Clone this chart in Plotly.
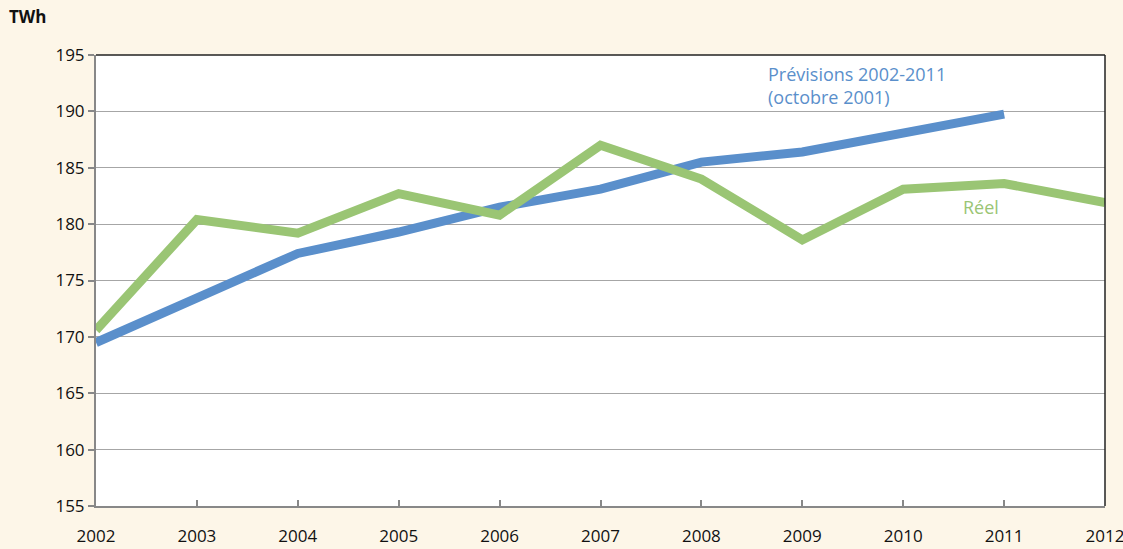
import plotly.graph_objects as go

years = [2002, 2003, 2004, 2005, 2006, 2007, 2008, 2009, 2010, 2011, 2012]
prevision_years = years[:10]
previsions = [169.5, 173.5, 177.4, 179.3, 181.5, 183.1, 185.5, 186.4, 188.1, 189.75]
reel = [170.6, 180.4, 179.2, 182.7, 180.8, 187.0, 184.0, 178.6, 183.1, 183.6, 181.9]
y_ticks = [155, 160, 165, 170, 175, 180, 185, 190, 195]

BLUE = "#5A8FCB"
GREEN = "#9AC574"
BG = "#FDF6E8"
FONT = "Open Sans"

fig = go.Figure()
fig.add_trace(go.Scatter(x=prevision_years, y=previsions, mode="lines",
                         line=dict(color=BLUE, width=9), name="Prévisions"))
fig.add_trace(go.Scatter(x=years, y=reel, mode="lines",
                         line=dict(color=GREEN, width=9), name="Réel"))

fig.update_layout(
    width=1123, height=549,
    paper_bgcolor=BG, plot_bgcolor="white",
    margin=dict(l=96, r=18, t=55, b=43, autoexpand=False),
    showlegend=False,
    font=dict(family=FONT, size=17, color="#111111"),
)
fig.update_xaxes(
    range=[2002, 2012], tickvals=years, ticktext=[str(y) for y in years],
    showgrid=False, showline=True, linecolor="#888888", linewidth=2,
    ticks="inside", ticklen=6, tickcolor="#888888", tickwidth=1.5,
    tickfont=dict(size=17), zeroline=False, ticklabelstandoff=14,
    automargin=False, ticklabeloverflow="allow",
)
fig.update_yaxes(
    range=[155, 195], tickvals=y_ticks,
    showgrid=True, gridcolor="#A6A6A6", gridwidth=1,
    showline=True, linecolor="#888888", linewidth=2,
    ticks="outside", ticklen=6, tickcolor="#888888", tickwidth=1.5,
    tickfont=dict(size=17), zeroline=False,
    automargin=False,
)
# black top and right borders
fig.add_shape(type="line", xref="paper", yref="paper", x0=0, x1=1, y0=1, y1=1,
              line=dict(color="#222222", width=1.5))
fig.add_shape(type="line", xref="paper", yref="paper", x0=1, x1=1, y0=0, y1=1,
              line=dict(color="#222222", width=1.5))

fig.add_annotation(text="<b>TWh</b>", xref="paper", yref="paper", x=-0.088, y=1.055,
                   xanchor="left", yanchor="bottom", showarrow=False,
                   font=dict(size=17, color="#111111"))
fig.add_annotation(text="Prévisions 2002-2011<br>(octobre 2001)", x=2008.64, y=194.6,
                   xanchor="left", yanchor="top", align="left", showarrow=False,
                   font=dict(size=18, color=BLUE))
fig.add_annotation(text="Réel", x=2010.77, y=181.5, xanchor="center", yanchor="middle",
                   showarrow=False, font=dict(size=18, color=GREEN))

fig.write_html("out.html", config={"displayModeBar": False},
               post_script="document.body.style.margin='0';document.body.style.overflow='hidden';")
